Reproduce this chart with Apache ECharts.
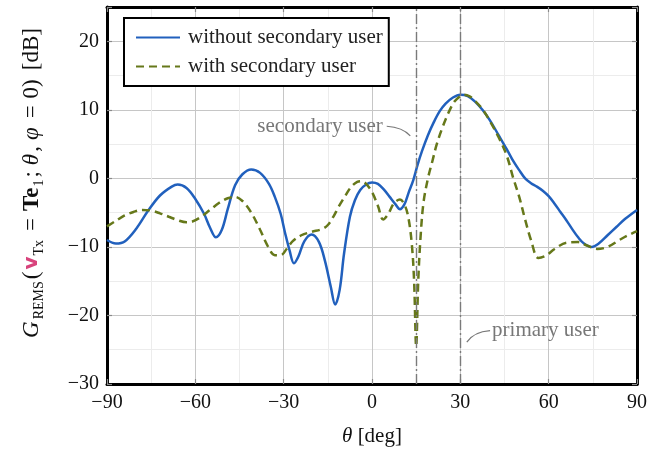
<!DOCTYPE html>
<html>
<head>
<meta charset="UTF-8">
<title>REMS gain pattern</title>
<script src="https://cdn.jsdelivr.net/npm/echarts@6/dist/echarts.min.js"></script>
<style>
  html, body { margin: 0; padding: 0; background: #fff; }
  #chart { width: 672px; height: 457px; }
</style>
</head>
<body>
<div id="chart"></div>
<script>
// angle [deg] and gain [dB]
var thetaWithout = [-90, -87, -84, -80, -76, -72, -68, -66, -63, -60, -57, -55, -53, -51, -49, -46.5, -44, -41, -38, -35, -33, -31, -29.5, -28, -26.5, -25, -23, -20.5, -18, -16, -14, -12.5, -11, -9.5, -7.5, -5.8, -4, -2, 0, 2, 4, 6, 8, 9.5, 11, 12.5, 14, 15.5, 17, 19, 21, 23, 25, 27.5, 30, 32.5, 35, 37.5, 40, 43, 45.7, 48, 50, 52, 54, 56, 58, 60, 62, 64, 66, 68, 70, 72, 74.6, 77, 80, 83, 86, 90];
var gainWithout = [-9.0, -9.5, -9.2, -7.3, -4.7, -2.5, -1.2, -0.9, -1.4, -3.0, -5.2, -7.2, -8.6, -7.5, -4.5, -1.0, 0.6, 1.3, 0.8, -0.8, -2.7, -5.2, -8.0, -10.5, -12.4, -11.4, -9.2, -8.2, -9.3, -12.0, -15.8, -18.4, -16.3, -11.0, -5.6, -3.2, -1.7, -0.9, -0.6, -0.8, -1.6, -2.7, -3.8, -4.5, -3.8, -2.0, -0.3, 2.0, 4.0, 6.3, 8.2, 9.8, 10.9, 11.8, 12.2, 12.0, 11.2, 10.0, 8.5, 6.3, 4.3, 2.5, 1.2, 0.0, -0.7, -1.2, -1.8, -2.6, -3.7, -4.9, -6.1, -7.4, -8.6, -9.5, -10.0, -9.5, -8.3, -7.1, -5.9, -4.6];

var thetaWith = [-90, -87, -84, -81, -78, -75, -72, -69, -66, -63, -61, -58, -55, -52, -49, -46.5, -44, -41, -38, -35.5, -33, -31, -29, -27, -24, -20.5, -17, -15, -13, -11.4, -9, -7, -5, -3.5, -2, 0, 2, 3.8, 5.5, 7.5, 9.5, 11, 12.3, 13.5, 14.3, 15, 15.7, 16.5, 17.5, 19, 20.5, 22, 24, 26, 28, 30, 31, 33, 35, 37.5, 40, 43, 45.7, 48, 50, 52, 54, 56.5, 59, 62, 66, 70, 73, 76.5, 80, 84, 87, 90];
var gainWith = [-7.0, -6.2, -5.4, -4.9, -4.6, -4.7, -5.1, -5.6, -6.1, -6.4, -6.3, -5.6, -4.6, -3.6, -2.9, -2.7, -3.3, -5.0, -7.5, -9.8, -11.2, -11.2, -10.3, -9.2, -8.3, -7.8, -7.4, -6.8, -5.5, -4.2, -2.5, -1.2, -0.5, -0.4, -0.8, -2.0, -4.0, -6.0, -5.2, -3.6, -3.1, -3.8, -5.6, -9.5, -15.0, -24.5, -15.0, -8.5, -3.5, 0.0, 2.5, 5.0, 7.5, 9.6, 11.2, 12.0, 12.2, 12.0, 11.3, 10.1, 8.4, 6.0, 3.4, 0.0, -2.7, -6.0, -9.0, -11.6, -11.3, -10.3, -9.4, -9.3, -9.8, -10.3, -10.0, -9.0, -8.3, -7.7];

var userAngles = [15, 30];   // secondary, primary user directions
var xTicks = { min: -90, max: 90, major: 30, minor: 15 };
var yTicks = { min: -30, max: 25, major: 10, minor: 5 };

function zip(xs, ys) {
  var out = [];
  for (var i = 0; i < xs.length; i++) out.push([xs[i], ys[i]]);
  return out;
}
function fmt(v) {
  if (v === yTicks.max) return '';
  return String(v).replace('-', '\u2212');
}

var serif = 'Liberation Serif';
var majorCol = '#c6c6c6', minorCol = '#ececec';
var frame = { show: true, onZero: false, lineStyle: { color: '#000', width: 3 } };
var tick = { show: true, inside: true, length: 5, lineStyle: { color: '#8a8a8a', width: 1.2 } };

var chart = echarts.init(document.getElementById('chart'));

var option = {
  animation: false,
  grid: { left: 107, right: 35, top: 7, bottom: 73 },
  legend: {
    orient: 'vertical',
    left: 124, top: 18,
    padding: [9, 6, 9, 11],
    itemWidth: 44, itemHeight: 14, itemGap: 8,
    backgroundColor: '#fff',
    borderColor: '#000', borderWidth: 2,
    itemStyle: { opacity: 0 },
    textStyle: { fontFamily: serif, fontSize: 21, color: '#222', padding: [0, 0, 0, 3] },
    data: ['without secondary user', 'with secondary user']
  },
  xAxis: [
    { // grid lines
      type: 'value', min: xTicks.min, max: xTicks.max, interval: xTicks.minor,
      axisLine: { show: false }, axisTick: { show: false }, axisLabel: { show: false },
      splitLine: { show: true, lineStyle: { color: [majorCol, minorCol], width: 1 } }
    },
    { // bottom frame, ticks, labels
      type: 'value', position: 'bottom', min: xTicks.min, max: xTicks.max, interval: xTicks.major,
      axisLine: frame, axisTick: tick, splitLine: { show: false },
      axisLabel: { fontFamily: serif, fontSize: 20, color: '#111', margin: 9, formatter: fmt },
      name: '{i|\u03b8} [deg]', nameLocation: 'middle', nameGap: 42,
      nameTextStyle: { fontFamily: serif, fontSize: 21, color: '#111',
        rich: { i: { fontFamily: serif, fontStyle: 'italic', fontSize: 21, color: '#111' } } }
    },
    { // top frame
      type: 'value', position: 'top', min: xTicks.min, max: xTicks.max, interval: xTicks.major,
      axisLine: frame, axisTick: tick, axisLabel: { show: false }, splitLine: { show: false }
    }
  ],
  yAxis: [
    {
      type: 'value', min: yTicks.min, max: yTicks.max, interval: yTicks.minor,
      axisLine: { show: false }, axisTick: { show: false }, axisLabel: { show: false },
      splitLine: { show: true, lineStyle: { color: [majorCol, minorCol], width: 1 } }
    },
    {
      type: 'value', position: 'left', min: yTicks.min, max: yTicks.max, interval: yTicks.major,
      axisLine: frame, axisTick: tick, splitLine: { show: false },
      axisLabel: { fontFamily: serif, fontSize: 20, color: '#111', margin: 8, formatter: fmt }
    },
    {
      type: 'value', position: 'right', min: yTicks.min, max: yTicks.max, interval: yTicks.major,
      axisLine: frame, axisTick: tick, axisLabel: { show: false }, splitLine: { show: false }
    }
  ],
  series: [
    {
      name: 'without secondary user', type: 'line', smooth: 0.35,
      symbol: 'none', xAxisIndex: 0, yAxisIndex: 0,
      lineStyle: { color: '#2160bd', width: 2.5 },
      itemStyle: { color: '#2160bd' },
      data: zip(thetaWithout, gainWithout),
      markLine: {
        silent: true, symbol: 'none', label: { show: false },
        lineStyle: { color: '#7a7a7a', width: 1.4, type: [10, 3, 2, 3] },
        data: userAngles.map(function (a) { return { xAxis: a }; })
      }
    },
    {
      name: 'with secondary user', type: 'line', smooth: 0.35,
      symbol: 'none', xAxisIndex: 0, yAxisIndex: 0,
      lineStyle: { color: '#66781a', width: 2.5, type: [8, 5] },
      itemStyle: { color: '#66781a' },
      data: zip(thetaWith, gainWith)
    }
  ]
};
chart.setOption(option);

// y-axis label and the two pins, placed from data coordinates
function px(x, y) { return chart.convertToPixel({ xAxisIndex: 0, yAxisIndex: 0 }, [x, y]); }
var s0 = px(5, 7.6), s1 = px(13, 6.2);
var p0 = px(32.2, -23.9), p1 = px(40.1, -22.2);
var grey = '#777';

chart.setOption({
  graphic: [
    {
      type: 'text', x: 32, y: 184, rotation: Math.PI / 2,
      style: {
        text: '{i|G}{s|REMS}{p|(}{v|v}{s|Tx}{e|=}{b|Te}{s|1}{n|;}{i|\u03b8}{n|,}{i|\u03c6}{e|=}{p|0)}{d|[dB]}',
        align: 'center', verticalAlign: 'middle',
        rich: {
          p: { fontFamily: serif, fontSize: 23, fill: '#111', lineHeight: 28 },
          n: { fontFamily: serif, fontSize: 23, fill: '#111', lineHeight: 28, padding: [0, 4, 0, 0] },
          e: { fontFamily: serif, fontSize: 23, fill: '#111', lineHeight: 28, padding: [0, 7, 0, 7] },
          d: { fontFamily: serif, fontSize: 23, fill: '#111', lineHeight: 28, padding: [0, 0, 0, 9] },
          i: { fontFamily: serif, fontStyle: 'italic', fontSize: 23, fill: '#111', lineHeight: 28, padding: [0, 2, 0, 2] },
          b: { fontFamily: serif, fontWeight: 'bold', fontSize: 23, fill: '#111', lineHeight: 28, padding: [0, 1, 0, 0] },
          v: { fontFamily: 'DejaVu Sans', fontWeight: 'bold', fontSize: 20, fill: '#d8437c', lineHeight: 28, padding: [0, 1, 0, 2] },
          s: { fontFamily: serif, fontSize: 14, fill: '#111', lineHeight: 17, verticalAlign: 'bottom', padding: [0, 2, 0, 0] }
        }
      }
    },
    {
      type: 'text', x: s0[0] - 4, y: s0[1],
      style: { text: 'secondary user', fontFamily: serif, fontSize: 21, fill: grey, align: 'right', verticalAlign: 'middle' }
    },
    {
      type: 'bezierCurve',
      shape: { x1: s0[0], y1: s0[1], cpx1: (s0[0] + s1[0]) / 2 + 4, cpy1: s0[1] + 1, x2: s1[0], y2: s1[1] },
      style: { stroke: grey, lineWidth: 1.2, fill: null }
    },
    {
      type: 'text', x: p1[0] + 2, y: p1[1],
      style: { text: 'primary user', fontFamily: serif, fontSize: 21, fill: grey, align: 'left', verticalAlign: 'middle' }
    },
    {
      type: 'bezierCurve',
      shape: { x1: p0[0], y1: p0[1], cpx1: p0[0] + 7, cpy1: p1[1] + 1, x2: p1[0], y2: p1[1] },
      style: { stroke: grey, lineWidth: 1.2, fill: null }
    }
  ]
});
</script>
</body>
</html>
